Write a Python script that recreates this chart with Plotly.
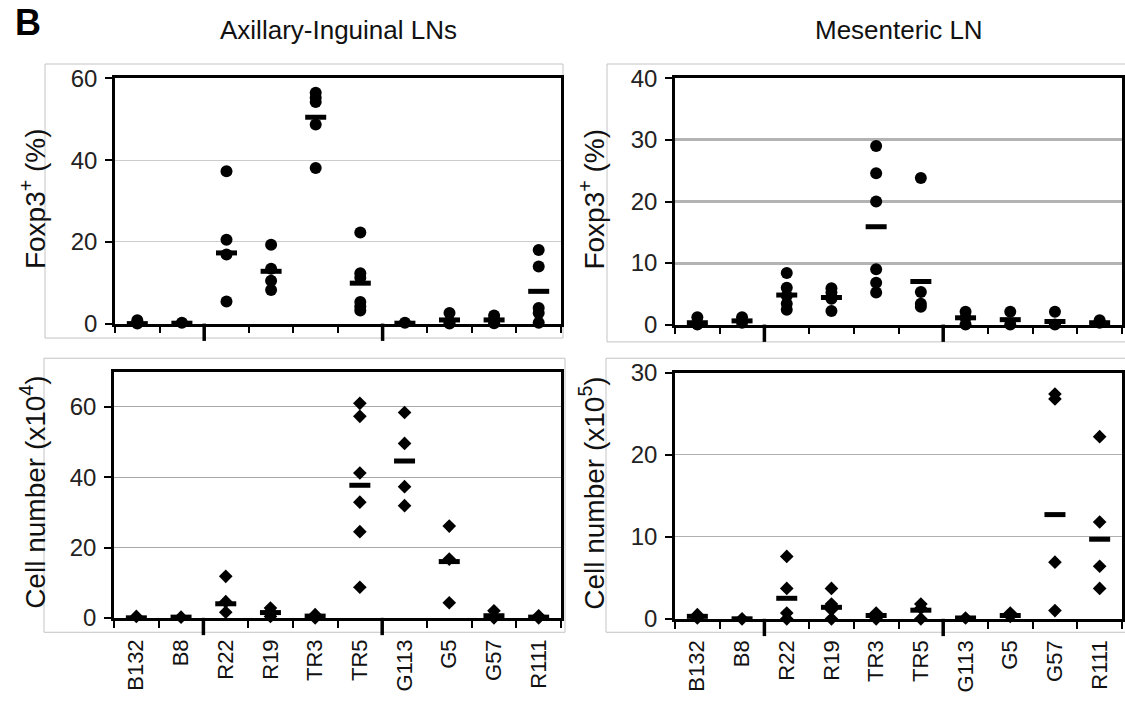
import plotly.graph_objects as go

W, H = 1125, 702

categories = ["B132", "B8", "R22", "R19", "TR3", "TR5", "G113", "G5", "G57", "R111"]

# Foxp3+ (%) - Axillary-Inguinal LNs
foxp3_axi = [
    [0.8, 0.0, -1.0],
    [0.2],
    [37.3, 20.5, 16.9, 5.4],
    [19.3, 13.4, 10.5, 8.2],
    [56.5, 55.3, 54.2, 48.7, 38.1],
    [22.3, 12.3, 11.2, 5.3, 4.2, 3.2],
    [0.2],
    [2.6, 0.4, 0.0],
    [2.0, 1.0, 0.1],
    [18.0, 14.0, 3.8, 2.6, 0.2],
]
foxp3_axi_mean = [0.0, 0.1, 17.3, 12.8, 50.5, 9.9, 0.1, 0.9, 0.9, 7.9]

# Foxp3+ (%) - Mesenteric LN
foxp3_mes = [
    [1.2, 0.0, -0.9],
    [1.2, 0.3],
    [8.4, 6.0, 4.7, 3.4, 2.4],
    [5.9, 5.2, 4.2, 2.2],
    [29.0, 24.6, 20.0, 9.0, 6.8, 5.2],
    [23.8, 5.3, 3.4, 2.9],
    [2.1, 1.1, 0.0],
    [2.1, 0.0],
    [2.1, 0.0],
    [0.7, 0.3],
]
foxp3_mes_mean = [0.3, 0.6, 4.8, 4.4, 15.9, 7.0, 1.1, 0.8, 0.5, 0.3]

# Cell number (x10^4) - Axillary-Inguinal LNs
cells_axi = [
    [0.4, -1.2],
    [0.2],
    [11.8, 4.6, 1.6],
    [2.8, 1.8, 0.4],
    [0.9, 0.0],
    [61.0, 57.3, 41.2, 32.9, 24.5, 8.7],
    [58.4, 49.6, 37.3, 31.9],
    [26.1, 16.7, 4.3],
    [2.0, 0.0],
    [0.6, 0.0],
]
cells_axi_mean = [0.0, 0.2, 4.0, 1.5, 0.5, 37.7, 44.6, 16.0, 0.6, 0.2]

# Cell number (x10^5) - Mesenteric LN
cells_mes = [
    [0.5, 0.1],
    [0.0],
    [7.6, 3.7, 0.7, 0.0],
    [3.7, 1.8, 1.1, 0.0],
    [0.7, 0.0],
    [1.8, 1.3, 0.0],
    [0.1],
    [0.7, 0.3],
    [27.4, 26.8, 6.9, 1.0],
    [22.2, 11.8, 6.4, 3.7],
]
cells_mes_mean = [0.3, 0.0, 2.5, 1.4, 0.4, 1.05, 0.1, 0.4, 12.7, 9.7]

panel_titles = ["Axillary-Inguinal LNs", "Mesenteric LN"]
y_titles = ["Foxp3<sup>+</sup> (%)", "Foxp3<sup>+</sup> (%)",
            "Cell number (x10<sup>4</sup>)", "Cell number (x10<sup>5</sup>)"]
y_ranges = [[0, 60], [0, 40], [0, 70], [0, 30]]
y_dticks = [20, 10, 20, 10]
group_separators = [1.5, 5.5]   # boundaries between groups (category index)

FONT = "Liberation Sans, Arial, sans-serif"

def px_x(v):
    return v / W

def px_y(v):
    return 1 - v / H

# plot-area pixel boxes: (left, right, top, bottom)
boxes = [
    (115, 561, 67, 322),
    (675, 1122, 67, 323),
    (114, 561, 372, 628),
    (675, 1122, 373, 629),
]
outer_boxes = [
    (45, 563, 52, 337),
    (607, 1135, 52, 341),
    (44, 565, 358, 643),
    (606, 1135, 358, 643),
]
grid_styles = [("#cccccc", 1), ("#b3b3b3", 3), ("#a8a8a8", 1), ("#b0b0b0", 1)]

panels = [
    (foxp3_axi, foxp3_axi_mean, "circle", 12),
    (foxp3_mes, foxp3_mes_mean, "circle", 12),
    (cells_axi, cells_axi_mean, "diamond", 10.5),
    (cells_mes, cells_mes_mean, "diamond", 10.5),
]

fig = go.Figure()
layout = dict(
    width=W, height=H,
    margin=dict(l=0, r=0, t=0, b=0),
    paper_bgcolor="white", plot_bgcolor="white",
    showlegend=False,
    font=dict(family=FONT, color="#111111", size=22),
    shapes=[], annotations=[],
)

for i, (vals, means, sym, msz) in enumerate(panels):
    xa = "x" if i == 0 else f"x{i+1}"
    ya = "y" if i == 0 else f"y{i+1}"
    xs, ys = [], []
    for c, lst in zip(categories, vals):
        for v in lst:
            xs.append(c)
            ys.append(v)
    fig.add_trace(go.Scatter(
        x=xs, y=ys, mode="markers", xaxis=xa, yaxis=ya, cliponaxis=False,
        marker=dict(symbol=sym, size=msz, color="black", line=dict(width=0)),
    ))
    fig.add_trace(go.Scatter(
        x=categories, y=means, mode="markers", xaxis=xa, yaxis=ya, cliponaxis=False,
        marker=dict(symbol="line-ew", size=15, color="black",
                    line=dict(width=5, color="black")),
    ))
    l, r, t, b = boxes[i]
    gc, gw = grid_styles[i]
    xkey = "xaxis" if i == 0 else f"xaxis{i+1}"
    ykey = "yaxis" if i == 0 else f"yaxis{i+1}"
    layout[xkey] = dict(
        domain=[px_x(l), px_x(r)], anchor=ya, type="category",
        categoryorder="array", categoryarray=categories,
        range=[-0.5, len(categories) - 0.5],
        showline=True, linecolor="black", linewidth=2.5, mirror=True,
        ticks="outside", ticklen=7, tickwidth=2, tickcolor="black",
        tickson="boundaries", showgrid=False, zeroline=False,
        showticklabels=(i >= 2), tickangle=-90, ticklabelstandoff=10,
        tickfont=dict(family=FONT, size=22, color="#111111"),
    )
    layout[ykey] = dict(
        domain=[px_y(b), px_y(t)], anchor=xa,
        range=y_ranges[i], dtick=y_dticks[i], tick0=0,
        showline=True, linecolor="black", linewidth=2.5, mirror=True,
        ticks="outside", ticklen=7, tickwidth=2, tickcolor="black",
        showgrid=True, gridcolor=gc, gridwidth=gw, zeroline=False,
        tickfont=dict(family=FONT, size=24, color="#222222"),
        ticklabelstandoff=3,
    )
    # group separator ticks (axis decoration, below the x axis line)
    n = len(categories)
    for sx in group_separators:
        xp = l + (sx + 0.5) / n * (r - l)
        layout["shapes"].append(dict(
            type="line", xref="paper", yref="paper",
            x0=px_x(xp), x1=px_x(xp), y0=px_y(b), y1=px_y(b + 18),
            line=dict(color="black", width=3.5),
        ))
    # outer chart-area borders
    ol, orr, ot, ob = outer_boxes[i]
    layout["shapes"].append(dict(
        type="rect", xref="paper", yref="paper",
        x0=px_x(ol), x1=px_x(orr), y0=px_y(ob), y1=px_y(ot),
        line=dict(color="#c4c4c4", width=1), layer="below",
    ))
    # y-axis title
    ytx = 33 if i % 2 == 0 else 592
    layout["annotations"].append(dict(
        text=y_titles[i], xref="paper", yref="paper",
        x=px_x(ytx), y=px_y((t + b) / 2 - 2), textangle=-90,
        showarrow=False, xanchor="center", yanchor="middle",
        font=dict(family=FONT, size=28, color="#111111"),
    ))

for j, title in enumerate(panel_titles):
    l, r, t, b = boxes[j]
    layout["annotations"].append(dict(
        text=title, xref="paper", yref="paper",
        x=px_x((l + r) / 2), y=px_y(17), showarrow=False,
        xanchor="center", yanchor="middle",
        font=dict(family=FONT, size=26, color="#111111"),
    ))

layout["annotations"].append(dict(
    text="<b>B</b>", xref="paper", yref="paper",
    x=px_x(28), y=px_y(9), showarrow=False, xanchor="center", yanchor="middle",
    font=dict(family=FONT, size=36, color="black"),
))

fig.update_layout(**layout)
fig.write_html("out.html")
